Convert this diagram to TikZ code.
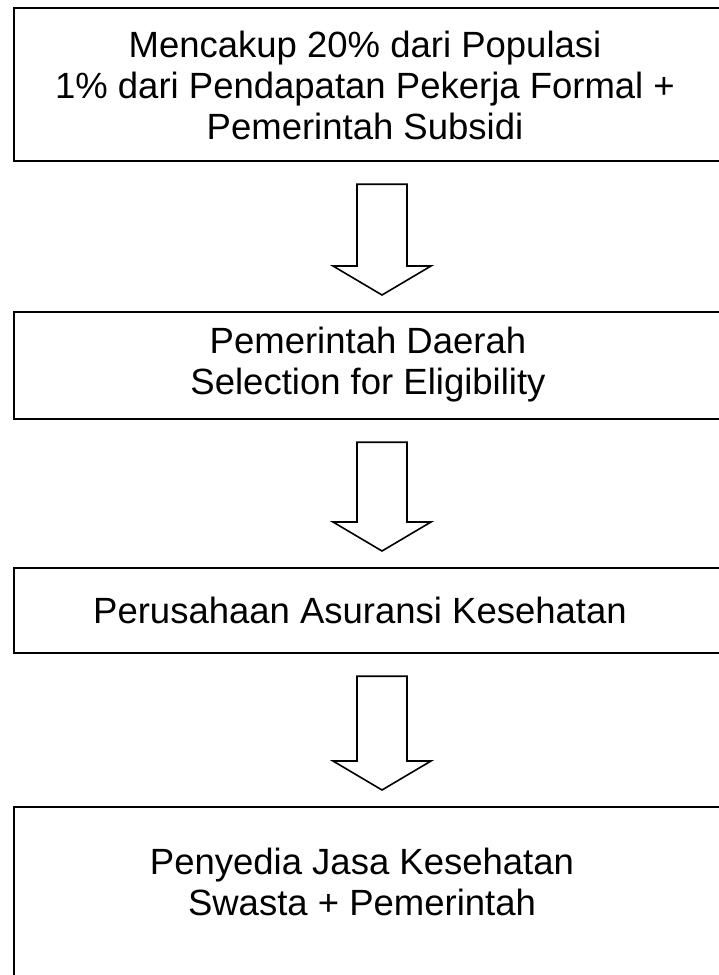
\documentclass[tikz,border=0pt]{standalone}
\usepackage{fontspec}
\setmainfont{Liberation Sans}
\usetikzlibrary{calc}
\begin{document}
\begin{tikzpicture}[x=1pt,y=-1pt,
  frame/.style={draw=black,line width=2.2pt,fill=white},
  label/.style={font=\fontsize{36.5}{41}\selectfont,align=center,inner sep=0pt},
  blockarrow/.style={draw=black,line width=1.6pt,fill=white,line join=miter}]
  \useasboundingbox (0,0) rectangle (719,975);

  % boxes (the right and bottom edges run off the page)
  \node[frame,anchor=north west,minimum width=706.5pt,minimum height=153pt,inner sep=0pt] (b1) at (13,7) {};
  \node[frame,anchor=north west,minimum width=706.5pt,minimum height=107pt,inner sep=0pt] (b2) at (13,311) {};
  \node[frame,anchor=north west,minimum width=706.5pt,minimum height=85pt,inner sep=0pt] (b3) at (13,567) {};
  \node[frame,anchor=north west,minimum width=706.5pt,minimum height=184pt,inner sep=0pt] (b4) at (13,806) {};

  % texts
  \node[label] (t1) at (365,85) {Mencakup 20\% dari Populasi\\1\% dari Pendapatan Pekerja Formal +\\Pemerintah Subsidi};
  \node[label] (t2) at (368,365) {Pemerintah Daerah\\Selection for Eligibility};
  \node[label] (t3) at (360,610) {Perusahaan Asuransi Kesehatan};
  \node[label] (t4) at (362,882) {Penyedia Jasa Kesehatan\\Swasta + Pemerintah};

  % block arrows from each box down to the next
  \foreach \a/\b in {b1/b2, b2/b3, b3/b4}{
    \path (\a.south) ++(0,22) coordinate (top);
    \path (\b.north) ++(0,-16) coordinate (tip);
    \draw[blockarrow] let \p1=(top), \p2=(tip) in
      (357,\y1) -- (407,\y1) -- (407,\y2+29pt) -- (431,\y2+29pt)
      -- (382,\y2) -- (333,\y2+29pt) -- (357,\y2+29pt) -- cycle;
  }
\end{tikzpicture}
\end{document}
